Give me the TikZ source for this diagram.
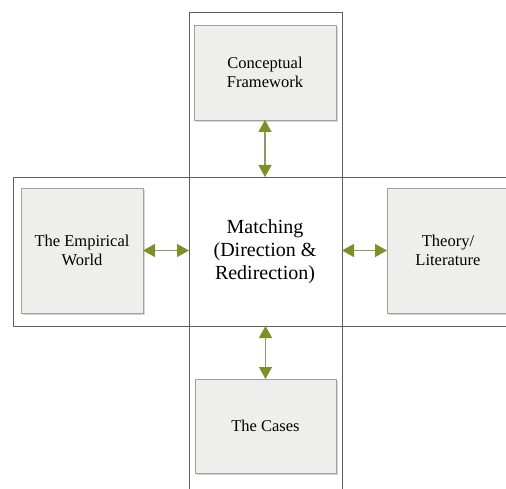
\documentclass[tikz,border=0pt]{standalone}
\usepackage{fontspec}
\setmainfont{Liberation Serif}
\usetikzlibrary{shadows,arrows.meta}

\definecolor{frameline}{RGB}{95,95,95}
\definecolor{boxfill}{RGB}{238,238,236}
\definecolor{boxline}{RGB}{160,160,158}
\definecolor{arrowolive}{RGB}{122,145,40}
\definecolor{shaftcol}{RGB}{140,155,110}

\tikzset{
  band/.style={draw=frameline, line width=0.9pt, fill=none, inner sep=0pt, outer sep=0pt},
  itembox/.style={draw=boxline, line width=0.8pt, fill=boxfill, inner sep=0pt, outer sep=0pt,
    drop shadow={shadow xshift=1.6pt, shadow yshift=-1.8pt, opacity=0.35, fill=black!45},
    align=center, font=\fontsize{16.5}{19.5}\selectfont},
  centretext/.style={align=center, font=\fontsize{20}{23}\selectfont, inner sep=0pt},
  olivehead/.style={Triangle[length=12pt,width=13pt,fill=arrowolive,color=arrowolive]},
  linkarrow/.style={draw=shaftcol, line width=1.3pt, {Triangle[length=12pt,width=13pt,fill=arrowolive,color=arrowolive]}-{Triangle[length=12pt,width=13pt,fill=arrowolive,color=arrowolive]}},
}

\begin{document}
\begin{tikzpicture}[x=1pt,y=-1pt]
  \useasboundingbox (0,0) rectangle (506,489);
  \clip (0,0) rectangle (506,489);
  \fill[white] (0,0) rectangle (506,489);

  % the two crossing bands
  \node[band, minimum width=153pt, minimum height=490pt] (vband) at (265.5,257) {};
  \node[band, minimum width=504pt, minimum height=149pt] (hband) at (265,251.5) {};

  % the four surrounding boxes
  \node[itembox, minimum width=142pt, minimum height=95pt] (cf) at (265,72.5) {Conceptual\\Framework};
  \node[itembox, minimum width=122pt, minimum height=125pt] (emp) at (82,250.5) {The Empirical\\World};
  \node[itembox, minimum width=122pt, minimum height=125pt] (theory) at (448,250.5) {Theory/\\Literature};
  \node[itembox, minimum width=141pt, minimum height=94pt] (cases) at (265.5,426) {The Cases};

  % centre
  \node[centretext] (match) at (265,252) {Matching\\(Direction \&\\Redirection)};

  % two-way links
  \draw[linkarrow] (cf.south) -- (cf.south |- hband.north);
  \draw[linkarrow] (cases.north) -- (cases.north |- hband.south);
  \draw[linkarrow] (emp.east) -- (emp.east -| vband.west);
  \draw[linkarrow] (theory.west) -- (theory.west -| vband.east);
\end{tikzpicture}
\end{document}
